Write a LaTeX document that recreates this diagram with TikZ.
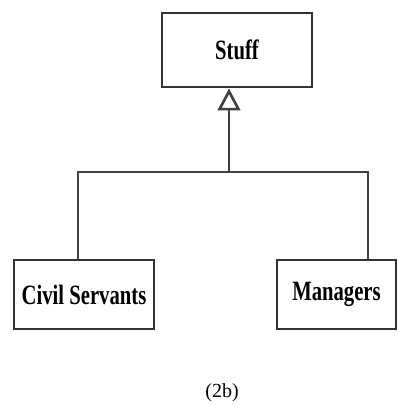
\documentclass[tikz,border=0pt]{standalone}
\usepackage{fontspec}
\setmainfont{Liberation Serif}
\usetikzlibrary{arrows.meta}

\begin{document}
\begin{tikzpicture}[x=0.75pt,y=-0.75pt,
        classbox/.style={
        rectangle, draw=black!80, line width=2.2pt,
        inner sep=0pt, minimum height=51.75pt,
        fill=white, font=\fontsize{15.5}{16}\selectfont\bfseries},
        link/.style={draw=black!75, line width=2.2pt},
        ]

        \useasboundingbox (0,0) rectangle (397,406);

        \node (stuff) [classbox, minimum width=112.5pt, minimum height=55.5pt] at (237,50){\scalebox{1}[1.35]{Stuff}};
        \node (civil) [classbox, minimum width=105pt] at (84,294.5){\scalebox{1}[1.35]{Civil Servants}};
        \node (managers) [classbox, minimum width=89.25pt] at (336.5,294.5){\scalebox{1}[1.35]{Managers}};
        \node (caption) at (222,393){\fontsize{15}{16}\selectfont (2b)};

        \coordinate (split) at (229,172);
        \coordinate (cl) at (78,172);
        \coordinate (cr) at (368,172);

        \draw [link] (civil.north -| cl) -- (cl) -- (cr) -- (managers.north -| cr);
        \draw [link, -{Triangle[open, length=16.5pt, width=17pt, line width=2pt]}] (split) -- (stuff.south -| split);
    \end{tikzpicture}
\end{document}
